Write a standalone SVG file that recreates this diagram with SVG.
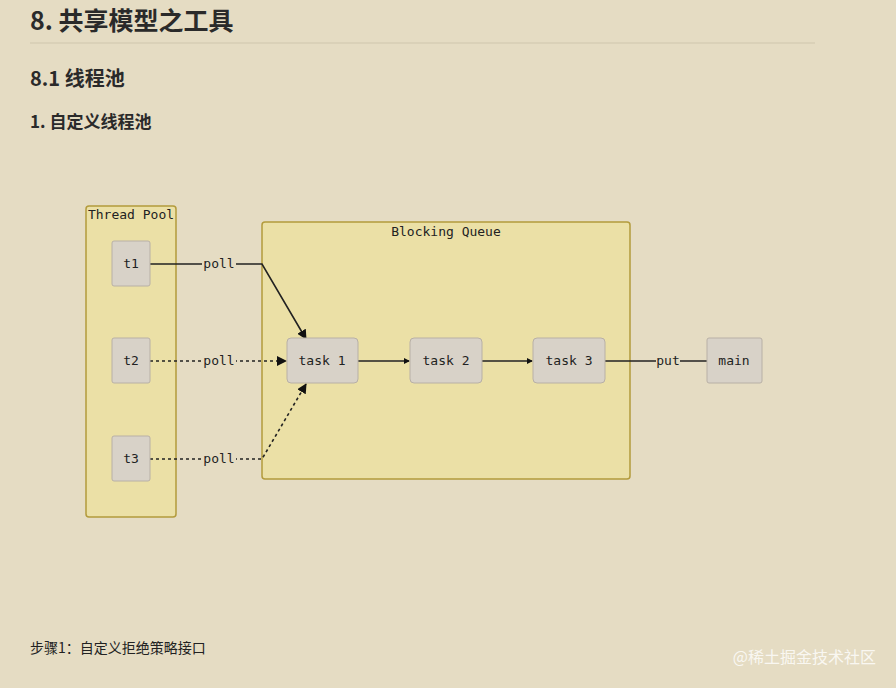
<svg xmlns="http://www.w3.org/2000/svg" width="896" height="688" viewBox="0 0 896 688">
<style>
.h{font-family:"Noto Sans CJK SC","Noto Sans",sans-serif;font-weight:bold;fill:#2a2a2a}
.m{font-family:"DejaVu Sans Mono","Liberation Mono",monospace;font-size:13px;fill:#222}
.cl{fill:#ebe0a6;stroke:#b39b3c;stroke-width:1.5}
.n{fill:#d8d2c8;stroke:#b8b0a6;stroke-width:1}
.e{stroke:#222;stroke-width:1.6;fill:none}
.d{stroke-dasharray:3,3}
.lb{fill:#e5dcc3}
</style>
<defs>
<marker id="a" markerWidth="10" markerHeight="10" refX="9" refY="5" orient="auto" markerUnits="userSpaceOnUse"><path d="M0,0L10,5L0,10z" fill="#111"/></marker>
<marker id="s" markerWidth="6" markerHeight="6" refX="5" refY="3" orient="auto" markerUnits="userSpaceOnUse"><path d="M0,0L6,3L0,6z" fill="#111"/></marker>
</defs>
<rect width="896" height="688" fill="#e5dcc3"/>
<text class="h" x="30" y="30" font-size="25">8. 共享模型之工具</text>
<line x1="30" y1="43" x2="815" y2="43" stroke="#cfc6ad"/>
<text class="h" x="30" y="86" font-size="20">8.1 线程池</text>
<text class="h" x="30" y="128" font-size="17">1. 自定义线程池</text>
<g id="pool"><rect class="cl" x="86" y="206" width="90" height="311" rx="3"/><text class="m" x="131" y="219" text-anchor="middle">Thread Pool</text></g>
<g id="queue"><rect class="cl" x="262" y="222" width="368" height="257" rx="3"/><text class="m" x="446" y="236" text-anchor="middle">Blocking Queue</text></g>
<g id="connectors">
<path class="e" d="M150,264H262L306,339" marker-end="url(#a)"/>
<path class="e d" d="M150,361H286" marker-end="url(#a)"/>
<path class="e d" d="M150,459H262L306,384" marker-end="url(#a)"/>
<path class="e" d="M358,361H409" marker-end="url(#s)"/>
<path class="e" d="M482,361H532" marker-end="url(#s)"/>
<path class="e" d="M707,361H605"/>
<rect class="lb" x="202" y="255" width="34" height="16"/><text class="m" x="219" y="268" text-anchor="middle">poll</text>
<rect class="lb" x="202" y="352" width="34" height="16"/><text class="m" x="219" y="365" text-anchor="middle">poll</text>
<rect class="lb" x="202" y="450" width="34" height="16"/><text class="m" x="219" y="463" text-anchor="middle">poll</text>
<rect class="lb" x="656" y="352" width="24" height="16"/><text class="m" x="668" y="365" text-anchor="middle">put</text>
</g>
<g id="t1"><rect class="n" x="112" y="241" width="38" height="45" rx="2"/><text class="m" x="131" y="268" text-anchor="middle">t1</text></g>
<g id="t2"><rect class="n" x="112" y="338" width="38" height="45" rx="2"/><text class="m" x="131" y="365" text-anchor="middle">t2</text></g>
<g id="t3"><rect class="n" x="112" y="436" width="38" height="45" rx="2"/><text class="m" x="131" y="463" text-anchor="middle">t3</text></g>
<g id="task1"><rect class="n" x="287" y="338" width="71" height="45" rx="4"/><text class="m" x="322" y="365" text-anchor="middle">task 1</text></g>
<g id="task2"><rect class="n" x="410" y="338" width="72" height="45" rx="4"/><text class="m" x="446" y="365" text-anchor="middle">task 2</text></g>
<g id="task3"><rect class="n" x="533" y="338" width="72" height="45" rx="4"/><text class="m" x="569" y="365" text-anchor="middle">task 3</text></g>
<g id="main"><rect class="n" x="707" y="338" width="55" height="45" rx="2"/><text class="m" x="734" y="365" text-anchor="middle">main</text></g>
<text x="30" y="653" font-family="Noto Sans CJK SC,sans-serif" font-size="14" fill="#222">步骤1：自定义拒绝策略接口</text>
<text x="876" y="663" text-anchor="end" font-family="Noto Sans CJK SC,sans-serif" font-size="16" fill="#fff" fill-opacity="0.8">@稀土掘金技术社区</text>
</svg>
